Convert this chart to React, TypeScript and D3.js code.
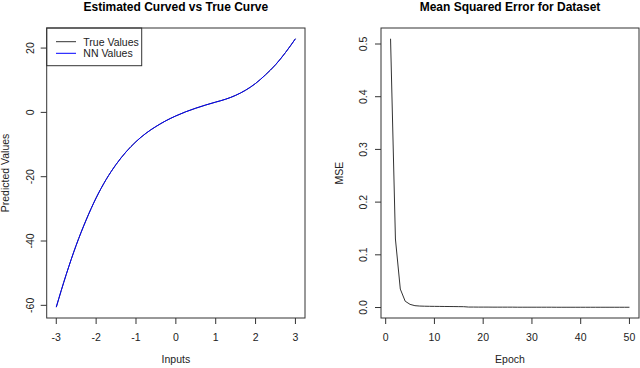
import React from 'react';
import * as d3 from 'd3';

// left panel: inputs vs fitted curve
const inputs = [-3, -2.75, -2.5, -2.25, -2, -1.75, -1.5, -1.25, -1, -0.75, -0.5, -0.25, 0, 0.25, 0.5, 0.75, 1, 1.25, 1.5, 1.75, 2, 2.25, 2.5, 2.75, 3];
const trueValues = [-60.6, -50.4, -41.3, -33.4, -26.6, -20.9, -16.2, -12.3, -9.1, -6.5, -4.4, -2.6, -1.1, 0.2, 1.3, 2.3, 3.2, 4.1, 5.3, 6.9, 9.0, 11.7, 14.8, 18.6, 22.9];
const nnValues = [-60.5, -50.4, -41.3, -33.5, -26.6, -20.9, -16.2, -12.3, -9.1, -6.5, -4.4, -2.6, -1.1, 0.2, 1.3, 2.3, 3.2, 4.1, 5.3, 6.9, 9.0, 11.7, 14.8, 18.6, 22.9];
const leftXTicks = [-3, -2, -1, 0, 1, 2, 3];
const leftYTicks = [-60, -40, -20, 0, 20];

// right panel: training loss
const epochs = [1, 2, 3, 4, 5, 6, 7, 8, 9, 10, 11, 12, 13, 14, 15, 16, 17, 18, 19, 20, 21, 22, 23, 24, 25, 26, 27, 28, 29, 30, 31, 32, 33, 34, 35, 36, 37, 38, 39, 40, 41, 42, 43, 44, 45, 46, 47, 48, 49, 50];
const mse = [0.51, 0.13, 0.035, 0.012, 0.006, 0.0035, 0.0028, 0.0025, 0.0023, 0.0022, 0.0021, 0.002, 0.0019, 0.0018, 0.0017, 0.0016,
  0.0009, 0.0009, 0.0008, 0.0008, 0.0008, 0.0007, 0.0007, 0.0007, 0.0007, 0.0007, 0.0006, 0.0006, 0.0006, 0.0006, 0.0006, 0.0006, 0.0006,
  0.0006, 0.0005, 0.0005, 0.0005, 0.0005, 0.0005, 0.0005, 0.0005, 0.0005, 0.0005, 0.0005, 0.0005, 0.0005, 0.0005, 0.0005, 0.0005, 0.0005];
const rightXTicks = [0, 10, 20, 30, 40, 50];
const rightYTicks = [0, 0.1, 0.2, 0.3, 0.4, 0.5];

const font = '"Liberation Sans", Arial, sans-serif';
const ink = '#222';
const frame = '#333';

// R style 4% padding around the data range
const pad = (vals: number[]) => {
  const [lo, hi] = d3.extent(vals) as [number, number];
  const d = (hi - lo) * 0.04;
  return [lo - d, hi + d];
};

type PanelProps = {
  box: { x0: number; x1: number; y0: number; y1: number };
  x: d3.ScaleLinear<number, number>;
  y: d3.ScaleLinear<number, number>;
  xTicks: number[];
  yTicks: number[];
  yFmt: (v: number) => string;
  title: string;
  xLabel: string;
  yLabel: string;
  yLabelX: number;
  yTickX: number;
  children?: React.ReactNode;
};

const Panel = ({ box, x, y, xTicks, yTicks, yFmt, title, xLabel, yLabel, yLabelX, yTickX, children }: PanelProps) => {
  const cx = (box.x0 + box.x1) / 2;
  const cy = (box.y0 + box.y1) / 2;
  return (
    <g>
      <text x={cx} y={11} textAnchor="middle" fontWeight="bold" fontSize={12} fill="#000">{title}</text>
      {children}
      <rect x={box.x0} y={box.y0} width={box.x1 - box.x0} height={box.y1 - box.y0} fill="none" stroke={frame} strokeWidth={1} />
      {xTicks.map(t => (
        <g key={'x' + t}>
          <line x1={x(t)} x2={x(t)} y1={box.y1} y2={box.y1 + 6} stroke={frame} />
          <text x={x(t)} y={340.5} textAnchor="middle" fontSize={10.5} fill={ink}>{t}</text>
        </g>
      ))}
      {yTicks.map(t => (
        <g key={'y' + t}>
          <line x1={box.x0 - 6} x2={box.x0} y1={y(t)} y2={y(t)} stroke={frame} />
          <text transform={`translate(${yTickX},${y(t)}) rotate(-90)`} textAnchor="middle" fontSize={10.5} fill={ink}>{yFmt(t)}</text>
        </g>
      ))}
      <text x={cx} y={363} textAnchor="middle" fontSize={10.5} fill={ink}>{xLabel}</text>
      <text transform={`translate(${yLabelX},${cy}) rotate(-90)`} textAnchor="middle" fontSize={10.5} fill={ink}>{yLabel}</text>
    </g>
  );
};

export default function App() {
  const lBox = { x0: 46.7, x1: 305, y0: 28, y1: 318 };
  const rBox = { x0: 381, x1: 639, y0: 28, y1: 318 };

  const lx = d3.scaleLinear().domain(pad(inputs)).range([lBox.x0, lBox.x1]);
  const ly = d3.scaleLinear().domain(pad([...trueValues, ...nnValues])).range([lBox.y1, lBox.y0]);
  const rx = d3.scaleLinear().domain(pad(epochs)).range([rBox.x0, rBox.x1]);
  const ry = d3.scaleLinear().domain(pad(mse)).range([rBox.y1, rBox.y0]);

  const curve = (vals: number[]) =>
    d3.line<number>().x((_, i) => lx(inputs[i])).y(v => ly(v)).curve(d3.curveMonotoneX)(vals) ?? '';
  const lossLine = d3.line<number>().x((_, i) => rx(epochs[i])).y(v => ry(v))(mse) ?? '';

  // legend in the top-left corner of the left panel
  const legend = [
    { label: 'True Values', color: '#333' },
    { label: 'NN Values', color: '#0000ff' },
  ];

  return (
    <svg width={640} height={368} style={{ position: 'absolute', left: 0, top: 0, background: '#fff' }} fontFamily={font}>
      <Panel box={lBox} x={lx} y={ly} xTicks={leftXTicks} yTicks={leftYTicks} yFmt={v => String(v)}
        title="Estimated Curved vs True Curve" xLabel="Inputs" yLabel="Predicted Values" yLabelX={8.5} yTickX={33.5}>
        <path d={curve(trueValues)} fill="none" stroke="#333" strokeWidth={1} />
        <path d={curve(nnValues)} fill="none" stroke="#0000ff" strokeWidth={1} />
        <rect x={lBox.x0} y={lBox.y0} width={95} height={37.7} fill="#fff" stroke={frame} />
        {legend.map((d, i) => (
          <g key={d.label}>
            <line x1={56} x2={76} y1={41.7 + i * 11.6} y2={41.7 + i * 11.6} stroke={d.color} />
            <text x={83.3} y={45.5 + i * 11.6} fontSize={10.5} fill={ink}>{d.label}</text>
          </g>
        ))}
      </Panel>
      <Panel box={rBox} x={rx} y={ry} xTicks={rightXTicks} yTicks={rightYTicks} yFmt={v => v.toFixed(1)}
        title="Mean Squared Error for Dataset" xLabel="Epoch" yLabel="MSE" yLabelX={342.5} yTickX={367}>
        <path d={lossLine} fill="none" stroke="#333" strokeWidth={1} />
      </Panel>
    </svg>
  );
}
